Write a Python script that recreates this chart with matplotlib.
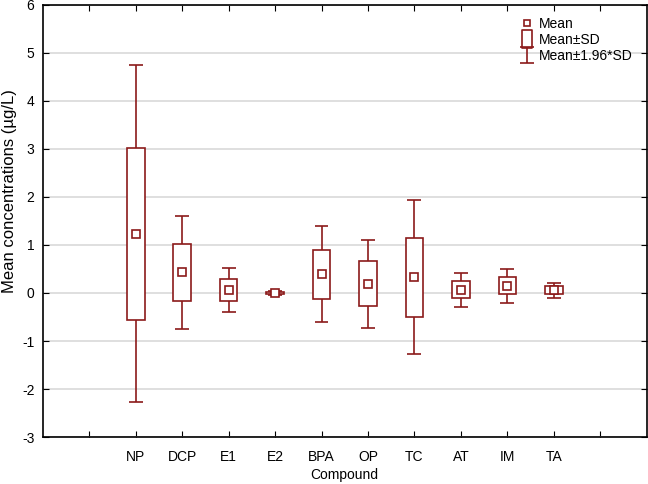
import numpy as np
import matplotlib
matplotlib.use("Agg")
import matplotlib.pyplot as plt
from matplotlib.lines import Line2D
from matplotlib.patches import Rectangle
from matplotlib.path import Path

plt.rcParams['font.family'] = ['Liberation Sans', 'DejaVu Sans']
plt.rcParams['axes.unicode_minus'] = False

# data
compounds = ["NP", "DCP", "E1", "E2", "BPA", "OP", "TC", "AT", "IM", "TA"]
means = [1.23, 0.43, 0.06, 0.0, 0.39, 0.19, 0.33, 0.07, 0.15, 0.06]
sds = [1.79, 0.60, 0.23, 0.025, 0.51, 0.47, 0.82, 0.18, 0.18, 0.08]

color = "#8b1a1a"
positions = np.arange(2, 2 + len(compounds))

fig = plt.figure(figsize=(6.48, 4.84), dpi=100)
ax = fig.add_axes([0.066, 0.097, 0.932, 0.893])

box_w = 0.38
cap_w = 0.30
for x, m, s in zip(positions, means, sds):
    lo, hi = m - 1.96 * s, m + 1.96 * s
    ax.vlines(x, lo, m - s, color=color, lw=1.2, zorder=2)
    ax.vlines(x, m + s, hi, color=color, lw=1.2, zorder=2)
    ax.hlines([lo, hi], x - cap_w / 2, x + cap_w / 2, color=color, lw=1.2, zorder=2)
    ax.add_patch(Rectangle((x - box_w / 2, m - s), box_w, 2 * s,
                           facecolor="white", edgecolor=color, lw=1.2, zorder=3))
    ax.plot(x, m, marker="s", ms=6, mfc="white", mec=color, mew=1.2, ls="none", zorder=4)

ax.set_xlim(0, 13)
ax.set_ylim(-3, 6)
ax.set_xticks(np.arange(1, 13))
ax.set_xticklabels([""] + compounds + [""])
ax.set_yticks(np.arange(-3, 7))
ax.grid(axis="y", color="#d9d9d9", lw=1.2, zorder=0)
ax.set_axisbelow(True)
ax.tick_params(direction="in", top=True, right=True, labelsize=10, length=4)
ax.tick_params(axis="x", pad=9)
ax.tick_params(axis="y", pad=6)
for sp in ax.spines.values():
    sp.set_linewidth(1.2)

ax.set_xlabel("Compound", fontsize=10, labelpad=3)
ax.set_ylabel("Mean concentrations (\u00b5g/L)", fontsize=12)
ax.yaxis.set_label_coords(-0.043, 0.57)

# legend symbols
rect_path = Path([(-0.6, -1), (0.6, -1), (0.6, 1), (-0.6, 1), (-0.6, -1)],
                 [Path.MOVETO, Path.LINETO, Path.LINETO, Path.LINETO, Path.CLOSEPOLY])
whisk_path = Path([(-0.8, 1), (0.8, 1), (0, 1), (0, -1), (-0.8, -1), (0.8, -1)],
                  [Path.MOVETO, Path.LINETO, Path.MOVETO, Path.LINETO, Path.MOVETO, Path.LINETO])
handles = [
    Line2D([], [], marker="s", ms=5, mfc="white", mec=color, mew=1.2, ls="none"),
    Line2D([], [], marker=rect_path, ms=13, mfc="white", mec=color, mew=1.2, ls="none"),
    Line2D([], [], marker=whisk_path, ms=12, mfc="none", mec=color, mew=1.2, ls="none"),
]
ax.legend(handles, ["Mean", "Mean\u00b1SD", "Mean\u00b11.96*SD"], loc="upper right",
          bbox_to_anchor=(0.992, 0.995), frameon=False, fontsize=10,
          handlelength=1.0, handletextpad=0.3, labelspacing=0.15, borderpad=0.2)

fig.savefig("out.png", dpi=100)
